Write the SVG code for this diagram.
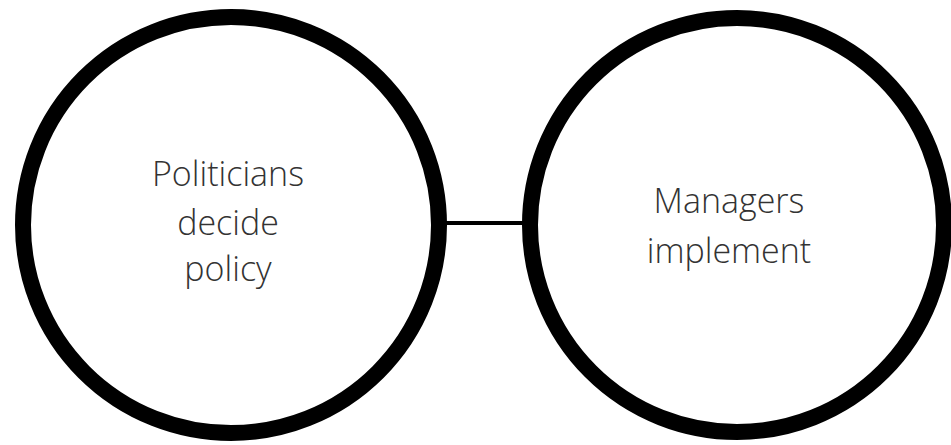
<svg xmlns="http://www.w3.org/2000/svg" width="951" height="445" viewBox="0 0 951 445">
<style>
.node circle{fill:#fff;stroke:#000;stroke-width:16}
.lbl{font-family:"Open Sans","Noto Sans",sans-serif;font-weight:300;font-size:34px;fill:#333;text-anchor:middle}
.conn line{stroke:#000;stroke-width:4}
</style>
<rect width="951" height="445" fill="#fff"/>
<g class="conn" id="connectors">
<line x1="440" y1="223" x2="532" y2="223"/>
</g>
<g class="node" id="politicians">
<circle cx="231" cy="225" r="208"/>
<text class="lbl" x="228" y="186">Politicians</text>
<text class="lbl" x="228" y="235">decide</text>
<text class="lbl" x="228" y="281">policy</text>
</g>
<g class="node" id="managers">
<circle cx="737" cy="225" r="207"/>
<text class="lbl" x="729" y="213">Managers</text>
<text class="lbl" x="729" y="263">implement</text>
</g>
</svg>
